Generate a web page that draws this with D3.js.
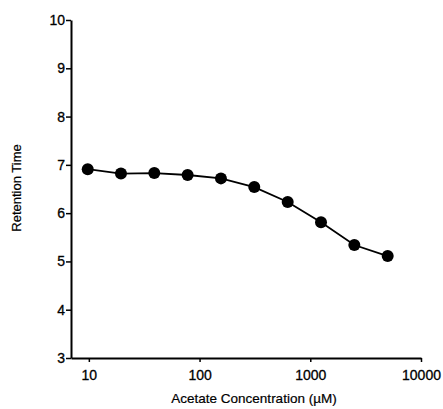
<!DOCTYPE html>
<html>
<head>
<meta charset="utf-8">
<script src="https://cdn.jsdelivr.net/npm/d3@7"></script>
<style>
  body { margin: 0; background: #fff; }
  text { font-family: "Liberation Sans", Arial, sans-serif; fill: #000; }
</style>
</head>
<body>
<div id="chart"></div>
<script>
// acetate concentration (uM), retention time
var concentrations = [9.77, 19.5, 39, 78, 156, 312, 625, 1250, 2500, 5000];
var retention = [6.91, 6.82, 6.83, 6.79, 6.72, 6.54, 6.23, 5.81, 5.34, 5.11];
var xTicks = [10, 100, 1000, 10000];
var yTicks = [3, 4, 5, 6, 7, 8, 9, 10];

var width = 443, height = 409;
var plotLeft = 71, plotRight = 421, plotTop = 20, plotBottom = 358;

var svg = d3.select('#chart')
    .append('svg')
    .attr('width', width)
    .attr('height', height);

var x = d3.scaleLog().domain([6.9, 10000]).range([plotLeft, plotRight]);
var y = d3.scaleLinear().domain([3, 10]).range([plotBottom, plotTop]);

// axes
var xAxis = svg.append('g')
    .attr('transform', 'translate(0,' + plotBottom + ')')
    .call(d3.axisBottom(x).tickValues(xTicks).tickFormat(d3.format('d')).tickSize(4).tickSizeOuter(0));
var yAxis = svg.append('g')
    .attr('transform', 'translate(' + plotLeft + ',0)')
    .call(d3.axisLeft(y).tickValues(yTicks).tickFormat(d3.format('d')).tickSize(5).tickSizeOuter(0));

[xAxis, yAxis].forEach(function(g) {
    g.select('.domain').attr('stroke', '#000').attr('stroke-width', 2);
    g.selectAll('.tick line').attr('stroke', '#000').attr('stroke-width', 1.5);
    g.selectAll('.tick text')
        .style('font-size', '14px')
        .style('font-family', '"Liberation Sans", Arial, sans-serif')
        .style('stroke', '#000')
        .style('stroke-width', 0.3);
});
xAxis.selectAll('.tick text').attr('dy', '1.05em');
yAxis.selectAll('.tick text').attr('x', -6);

// line + points
var line = d3.line()
    .x(function(d, i) { return x(concentrations[i]); })
    .y(function(d) { return y(d); });

svg.append('path')
    .datum(retention)
    .attr('d', line)
    .attr('fill', 'none')
    .attr('stroke', '#000')
    .attr('stroke-width', 1.8);

svg.append('g')
    .selectAll('circle')
    .data(retention)
    .enter()
    .append('circle')
    .attr('cx', function(d, i) { return x(concentrations[i]); })
    .attr('cy', function(d) { return y(d); })
    .attr('r', 6)
    .attr('fill', '#000');

// titles
svg.append('text')
    .attr('x', (plotLeft + plotRight) / 2 + 8)
    .attr('y', 403)
    .attr('text-anchor', 'middle')
    .style('font-size', '13.5px')
    .style('stroke', '#000')
    .style('stroke-width', 0.2)
    .text('Acetate Concentration (\u00b5M)');

svg.append('text')
    .attr('transform', 'translate(21,188) rotate(-90)')
    .attr('text-anchor', 'middle')
    .style('font-size', '13px')
    .style('stroke', '#000')
    .style('stroke-width', 0.2)
    .text('Retention Time');
</script>
</body>
</html>
